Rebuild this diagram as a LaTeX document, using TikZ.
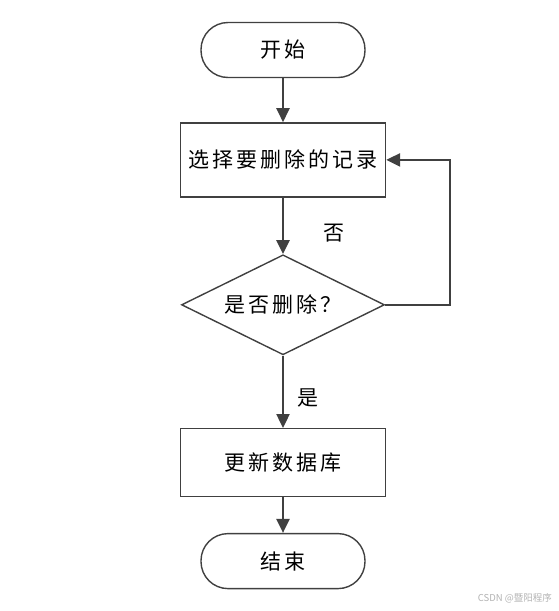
\documentclass[tikz,border=0pt]{standalone}
\usepackage{fontspec}
\setmainfont{Noto Sans CJK SC}
\newfontfamily\cjkwide[LetterSpace=14]{Noto Sans CJK SC}
\usetikzlibrary{arrows.meta, positioning, shapes.geometric}
\definecolor{linegray}{HTML}{404040}

\begin{document}
\begin{tikzpicture}[
    x=1pt, y=-1pt,
    every node/.style={
        align=center,
        font=\cjkwide\fontsize{21}{25}\selectfont,
        text=black
    },
    terminal/.style={
        draw=linegray,
        line width=1.4pt,
        rectangle,
        rounded corners=27pt,
        minimum width=164pt,
        minimum height=55pt
    },
    process/.style={
        draw=linegray,
        line width=1.4pt,
        rectangle,
        minimum width=205pt,
        minimum height=74pt
    },
    decision/.style={
        draw=linegray,
        line width=1.4pt,
        diamond,
        aspect=2.03,
        inner sep=0pt,
        minimum width=203pt,
        minimum height=100pt
    },
    lbl/.style={inner sep=0pt},
    arrow/.style={-{Triangle[length=14pt, width=13pt]}, draw=linegray, line width=2.4pt}
]
\useasboundingbox (0,0) rectangle (559,611);

% ---------- MAIN COLUMN
\node[terminal] (start) at (283,50) {开始};
\node[process] (select) [below=44pt of start] {选择要删除的记录};
\node[decision] (ask) [below=56.5pt of select] {是否删除？};
\node[process, minimum height=68pt] (update) [below=72.5pt of ask] {更新数据库};
\node[terminal] (stop) [below=35.5pt of update] {结束};

% ---------- DOWNWARD FLOW
\draw[arrow] (start) -- (select);
\draw[arrow] (select) -- node[lbl, pos=0.62, right=39.5pt] (no) {否} (ask);
\draw[arrow] (ask) -- node[lbl, pos=0.59, right=13.5pt] (yes) {是} (update);
\draw[arrow] (update) -- (stop);

% ---------- LOOP BACK
\draw[arrow] (ask.east) -- ++(65,0) |- (select.east);

% ---------- WATERMARK
\node[font=\fontsize{9.5}{11}\selectfont, text=gray!60, anchor=east, inner sep=0pt] (mark) at (552,598) {CSDN @暨阳程序};

\end{tikzpicture}
\end{document}
